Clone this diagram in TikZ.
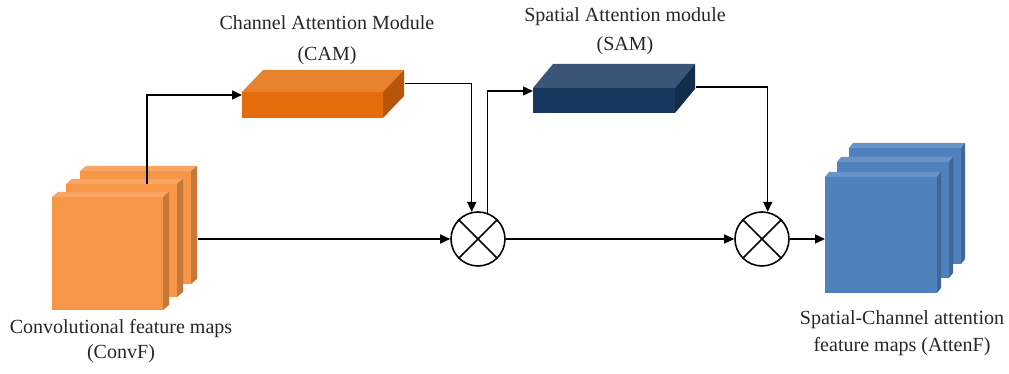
\documentclass[tikz,border=0pt]{standalone}
\usepackage{fontspec}
\setmainfont{Liberation Serif}
\usetikzlibrary{arrows.meta}
\definecolor{convc}{HTML}{F79646}
\definecolor{camc}{HTML}{E46C0A}
\definecolor{samc}{HTML}{17375E}
\definecolor{attc}{HTML}{4F81BD}

% 3D slab: name, x, y, width, height, depth x, depth y, colour
\newcommand{\slab}[8]{%
  \fill[#8!85!white] (#2,#3) -- ++(#6,-#7) -- ++(#4,0) -- ++(-#6,#7) -- cycle;
  \fill[#8!80!black] (#2+#4,#3) -- ++(#6,-#7) -- ++(0,#5) -- ++(-#6,#7) -- cycle;
  \node[fill=#8, inner sep=0, minimum width=#4*0.02cm, minimum height=#5*0.02cm,
        anchor=north west] (#1) at (#2,#3) {};}

\begin{document}
\begin{tikzpicture}[x=0.02cm, y=-0.02cm,
  lbl/.style={font=\fontsize{11.4}{14}\selectfont, align=center, inner sep=0, text=black!85},
  arr/.style={-{Triangle[length=2mm, width=1.8mm]}, line width=0.8pt},
  mult/.style={circle, draw, line width=0.9pt, minimum size=54*0.02cm, inner sep=0}]
  \useasboundingbox (0,0) rectangle (1009,374);
  % input feature maps
  \slab{conv3}{80}{171}{111}{113}{6}{5}{convc}
  \slab{conv2}{66}{184}{111}{113}{6}{5}{convc}
  \slab{conv1}{52}{197}{111}{113}{6}{5}{convc}
  % attention modules
  \slab{cam}{242}{92}{141}{26}{21}{22}{camc}
  \slab{sam}{533}{88}{142}{25}{20}{24}{samc}
  % output feature maps
  \slab{att3}{849}{148}{112}{116}{4}{5}{attc}
  \slab{att2}{837}{162}{112}{116}{4}{5}{attc}
  \slab{att1}{825}{177}{112}{116}{4}{5}{attc}
  % element-wise products
  \node[mult] (m1) at (478,239) {};
  \node[mult] (m2) at (762,239) {};
  \foreach \m in {m1,m2} \draw[line width=0.9pt] (\m.45) -- (\m.225) (\m.135) -- (\m.315);
  \coordinate (convout) at ([xshift=0.12cm]conv3.east);
  \draw[arr] ([xshift=5mm]conv2.north) |- ([yshift=-0.06cm]cam.north west);
  \draw[arr] (convout |- m1.west) -- (m1.west);
  \draw[arr] ([shift={(21,-22)}]cam.east) -| (m1.103);
  \draw[arr] (m1.70) |- ([yshift=-0.06cm]sam.north west);
  \draw[arr] ([shift={(20,-14)}]sam.east) -| (m2.78);
  \draw[arr] (m1) -- (m2);
  \draw[arr] (m2.east) -- (m2.east -| att1.west);
  % labels
  \node[lbl] (camlbl) at (327,40) {Channel Attention Module\\[3.5pt](CAM)};
  \node[lbl] (samlbl) at (625,31) {Spatial Attention module\\[2.5pt](SAM)};
  \node[lbl] (convlbl) at (121,341) {Convolutional feature maps\\(ConvF)};
  \node[lbl] (attlbl) at (902,333) {Spatial-Channel attention\\[1.5pt]feature maps (AttenF)};
\end{tikzpicture}
\end{document}
